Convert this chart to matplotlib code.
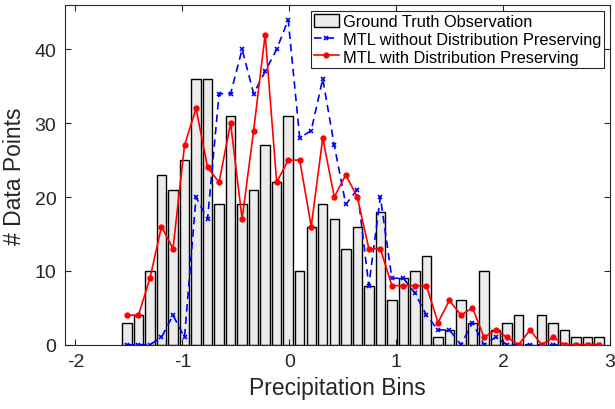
import numpy as np
import matplotlib
matplotlib.use("Agg")
import matplotlib.pyplot as plt

# Histogram bins (centers run from about -1.52 to 2.90, 42 bins)
bin_first = -1.518
bin_last = 2.899
n_bins = 42

# counts per bin
ground_truth = [3, 4, 10, 23, 21, 25, 36, 36, 19, 31, 19, 21, 27, 22, 31,
                10, 16, 19, 17, 13, 16, 8, 18, 6, 9, 10, 12, 1, 2, 6,
                3, 10, 2, 3, 4, 0, 4, 3, 2, 1, 1, 1]
mtl_no_dp = [0, 0, 0, 1, 4, 1, 20, 17, 34, 34, 40, 34, 37, 40, 44,
             28, 29, 36, 27, 19, 21, 8, 20, 9, 9, 7, 4, 2, 2, 0,
             3, 0, 1, 0, 0, 0, 0, 0, 0, 0, 0, 0]
mtl_dp = [4, 4, 9, 16, 13, 27, 32, 24, 22, 30, 17, 29, 42, 22, 25,
          25, 16, 28, 20, 23, 20, 13, 13, 8, 8, 8, 8, 3, 6, 4,
          5, 1, 2, 1, 0, 2, 0, 1, 0, 0, 0, 0]

labels = ['Ground Truth Observation',
          'MTL without Distribution Preserving',
          'MTL with Distribution Preserving']

plt.rcParams['font.family'] = ['Liberation Sans', 'DejaVu Sans']
plt.rcParams['axes.unicode_minus'] = False


def main():
	centers = np.linspace(bin_first, bin_last, n_bins)
	step = centers[1] - centers[0]

	fig = plt.figure(figsize=(6.15, 4.10), dpi=100)
	ax = fig.add_axes([64.7 / 615, (410 - 345.7) / 410,
	                   (610 - 64.7) / 615, (345.7 - 6) / 410])

	bars = ax.bar(centers, ground_truth, width=step * 0.82, color='#ececec',
	              edgecolor='black', linewidth=1.0, zorder=1)
	l1, = ax.plot(centers, mtl_no_dp, '--', color='blue', marker='x',
	              markersize=3, markeredgewidth=1.2, linewidth=1.2,
	              dashes=(4.5, 3), zorder=2)
	l2, = ax.plot(centers, mtl_dp, '-', color='red', marker='.',
	              markersize=7, linewidth=1.2, zorder=3)

	ax.set_xlim(-2.1, 3.0)
	ax.set_ylim(0, 46)
	ax.set_xticks([-2, -1, 0, 1, 2, 3])
	ax.set_yticks([0, 10, 20, 30, 40])
	ax.tick_params(direction='in', length=4, width=0.8, labelsize=14,
	               top=True, right=True, colors='#262626', pad=6)
	for s in ax.spines.values():
		s.set_color('#262626')
		s.set_linewidth(0.8)

	ax.set_xlabel('Precipitation Bins', fontsize=16.5, color='#262626',
	              labelpad=4)
	ax.set_ylabel('# Data Points', fontsize=16.5, color='#262626',
	              labelpad=6)

	leg = ax.legend([bars, l1, l2], labels, loc='upper right',
	                fontsize=11.8, fancybox=False, framealpha=1,
	                edgecolor='#262626', borderaxespad=0.35,
	                handlelength=1.5, handleheight=0.85, handletextpad=0.25,
	                labelspacing=0.15, borderpad=0.2)
	leg.get_frame().set_linewidth(0.8)

	fig.savefig('out.png', dpi=100)


if __name__ == "__main__":
	main()
